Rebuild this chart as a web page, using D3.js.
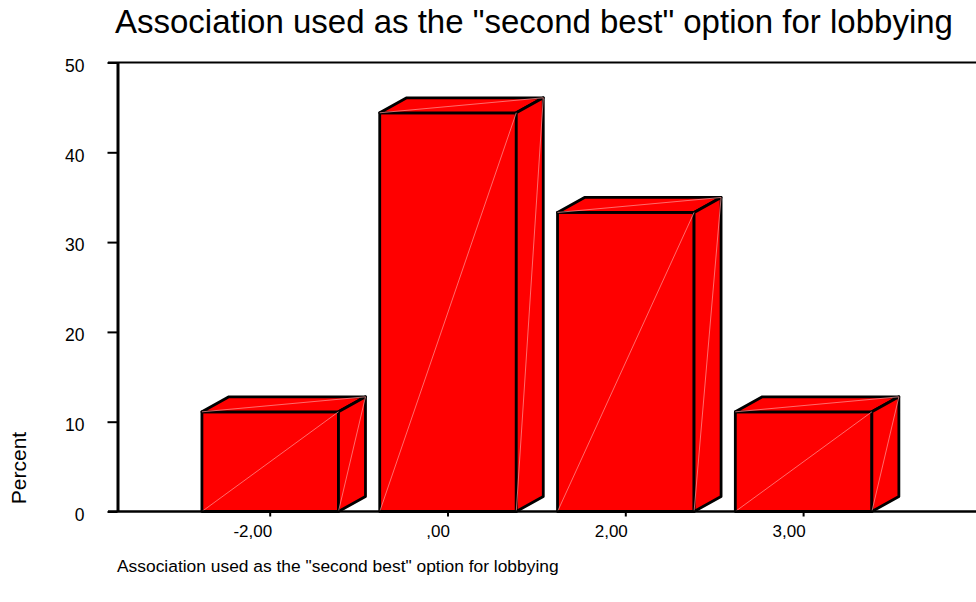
<!DOCTYPE html>
<html>
<head>
<meta charset="utf-8">
<script src="https://cdn.jsdelivr.net/npm/d3@7"></script>
<style>
  body { margin: 0; background: #fff; }
  svg { display: block; font-family: "Liberation Sans", Arial, sans-serif; }
</style>
</head>
<body>
<svg id="chart" width="976" height="602"></svg>
<script>
// data
const categories = ["-2,00", ",00", "2,00", "3,00"];
const percents = [11.1, 44.4, 33.3, 11.1];
const yTicks = [0, 10, 20, 30, 40, 50];
const titleText = 'Association used as the "second best" option for lobbying';

const svg = d3.select("#chart");

// scales
const x = d3.scaleBand()
    .domain(categories)
    .range([181.3, 892.5])
    .paddingInner(0.232)
    .paddingOuter(0.116);

const y = d3.scaleLinear()
    .domain([0, 50])
    .range([511.5, 62.5]);

const dx = 27, dy = -15; // 3d depth offset

// title
svg.append("text")
    .attr("x", 115)
    .attr("y", 33)
    .attr("font-size", 33)
    .text(titleText);

// frame line at top
svg.append("line")
    .attr("x1", 108).attr("x2", 976)
    .attr("y1", y(50)).attr("y2", y(50))
    .attr("stroke", "#000").attr("stroke-width", 2);

// bars
const bars = svg.append("g").selectAll("g")
    .data(categories)
    .enter()
    .append("g");

bars.each(function (c, i) {
    const g = d3.select(this);
    const x0 = x(c), x1 = x(c) + x.bandwidth();
    const top = y(percents[i]), base = y(0);
    const faces = [
        [[x0, base], [x0, top], [x1, top], [x1, base]],
        [[x0, top], [x0 + dx, top + dy], [x1 + dx, top + dy], [x1, top]],
        [[x1, top], [x1 + dx, top + dy], [x1 + dx, base + dy], [x1, base]]
    ];
    g.selectAll("polygon")
        .data(faces)
        .enter()
        .append("polygon")
        .attr("points", d => d.join(" "))
        .attr("fill", "#ff0000")
        .attr("stroke", "#000")
        .attr("stroke-width", 2.8)
        .attr("stroke-linejoin", "round");
    // faint diagonals on each face
    const diags = [
        [x0, base, x1, top],
        [x0, top, x1 + dx, top + dy],
        [x1, base, x1 + dx, top + dy]
    ];
    g.selectAll("line.diag")
        .data(diags)
        .enter()
        .append("line")
        .attr("class", "diag")
        .attr("x1", d => d[0]).attr("y1", d => d[1])
        .attr("x2", d => d[2]).attr("y2", d => d[3])
        .attr("stroke", "#ff9a9a")
        .attr("stroke-width", 0.7);
});

// y axis
const yAxis = svg.append("g")
    .attr("transform", "translate(117.5,0)")
    .call(d3.axisLeft(y).tickValues(yTicks).tickSize(10).tickSizeOuter(0).tickPadding(0));
yAxis.select(".domain").attr("stroke-width", 3);
yAxis.selectAll(".tick line").attr("stroke-width", 2);
yAxis.selectAll(".tick text")
    .attr("x", -33)
    .attr("dy", "0.5em")
    .attr("font-size", 17.5)
    .attr("font-family", "Liberation Sans, Arial, sans-serif")
    .attr("fill", "#000");

// x axis
svg.append("line")
    .attr("x1", 108).attr("x2", 976)
    .attr("y1", y(0)).attr("y2", y(0))
    .attr("stroke", "#000").attr("stroke-width", 2.5);

const xAxis = svg.append("g")
    .attr("transform", `translate(0,${y(0)})`)
    .call(d3.axisBottom(x).tickSize(5).tickSizeOuter(0).tickPadding(0));
xAxis.select(".domain").remove();
xAxis.selectAll(".tick line").attr("stroke-width", 2);
xAxis.selectAll(".tick text")
    .attr("text-anchor", "end")
    .attr("x", 2)
    .attr("y", 25.5)
    .attr("dy", 0)
    .attr("font-size", 17)
    .attr("font-family", "Liberation Sans, Arial, sans-serif")
    .attr("fill", "#000");

// axis titles
svg.append("text")
    .attr("x", 117)
    .attr("y", 572)
    .attr("font-size", 17.4)
    .text(titleText);

svg.append("text")
    .attr("transform", "translate(26,468) rotate(-90)")
    .attr("text-anchor", "middle")
    .attr("font-size", 21)
    .text("Percent");
</script>
</body>
</html>
